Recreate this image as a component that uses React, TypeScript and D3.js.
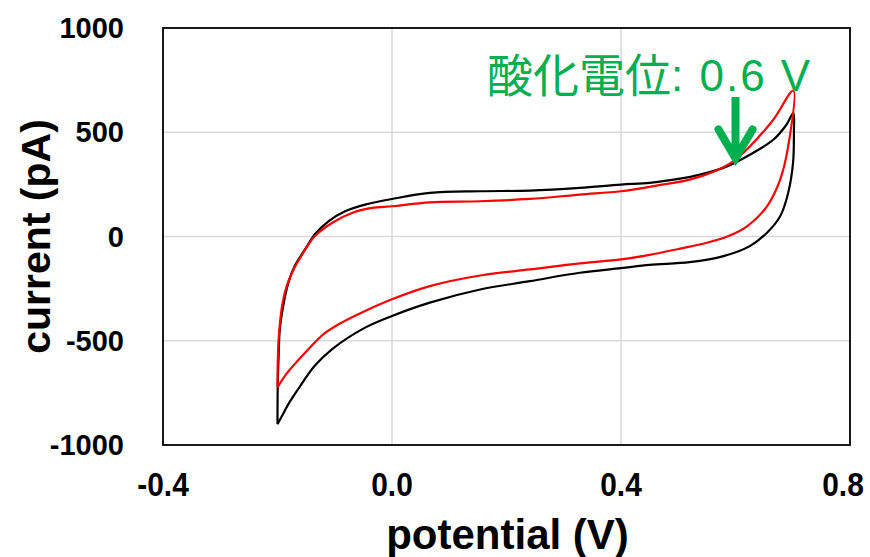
import React from "react";
import * as d3 from "d3";

// Potential (V) and current (pA), one full CV loop each
const blackPotential = [
  -0.2, -0.1995, -0.198, -0.196, -0.19, -0.181, -0.17, -0.152, -0.135, -0.111, -0.082, -0.047, 0.0, 0.066, 0.154, 0.241, 0.328, 0.4, 0.45, 0.5, 0.538, 0.585, 0.625, 0.666, 0.689, 0.701,
  0.702, 0.7005, 0.692, 0.678, 0.655, 0.625, 0.579, 0.52, 0.45, 0.4, 0.328, 0.241, 0.154, 0.066, 0.0, -0.047, -0.105, -0.135, -0.164, -0.181, -0.192, -0.2,
];
const blackCurrent = [
  -900, -700, -573, -445, -333, -222, -142, -62, 10, 73, 121, 153, 180, 209, 217, 220, 233, 249, 257, 276, 297, 336, 392, 464, 536, 592,
  500, 353, 209, 97, 18, -46, -94, -123, -136, -152, -174, -214, -254, -317, -381, -437, -541, -620, -732, -804, -860, -900,
];
const redPotential = [
  -0.2, -0.1995, -0.198, -0.192, -0.184, -0.172, -0.155, -0.135, -0.105, -0.07, -0.035, 0.0, 0.066, 0.154, 0.241, 0.328, 0.4, 0.462, 0.52, 0.567, 0.596, 0.625, 0.666, 0.701,
  0.692, 0.678, 0.655, 0.62, 0.59, 0.55, 0.5, 0.45, 0.4, 0.328, 0.241, 0.154, 0.066, 0.0, -0.047, -0.088, -0.12, -0.146, -0.17, -0.187, -0.2,
];
const redCurrent = [
  -724, -600, -493, -333, -238, -158, -78, 1, 65, 113, 137, 145, 164, 169, 180, 201, 217, 244, 273, 317, 360, 432, 560, 700,
  432, 273, 145, 49, 5, -30, -60, -88, -110, -129, -158, -187, -238, -301, -357, -413, -469, -541, -612, -668, -724,
];

const xTicks = [-0.4, 0.0, 0.4, 0.8];
const xTickLabels = ["-0.4", "0.0", "0.4", "0.8"];
const yTicks = [-1000, -500, 0, 500, 1000];
const annotationCJK = "酸化電位";
const annotationLatin = ": 0.6 V";
const annotationPotential = 0.6;
const annotationCurrent = 360;

const W = 870;
const H = 557;
const M = { left: 163, right: 20, top: 28, bottom: 112 };

export default function App() {
  const x = d3.scaleLinear().domain([-0.4, 0.8]).range([M.left, W - M.right]);
  const y = d3.scaleLinear().domain([-1000, 1000]).range([H - M.bottom, M.top]);

  const line = d3
    .line<[number, number]>()
    .x((d) => x(d[0]))
    .y((d) => y(d[1]))
    .curve(d3.curveCatmullRom.alpha(0.5));

  const black = blackPotential.map((v, i) => [v, blackCurrent[i]] as [number, number]);
  const red = redPotential.map((v, i) => [v, redCurrent[i]] as [number, number]);

  const font = "'Liberation Sans', Arial, sans-serif";
  const ax = x(annotationPotential);
  const tipY = y(annotationCurrent);

  return (
    <svg
      width={W}
      height={H}
      style={{ position: "absolute", left: 0, top: 0, background: "#fff" }}
    >
      {/* grid */}
      {xTicks.slice(1, -1).map((t) => (
        <line key={"gx" + t} x1={x(t)} x2={x(t)} y1={y(1000)} y2={y(-1000)} stroke="#d9d9d9" strokeWidth={1.5} />
      ))}
      {yTicks.slice(1, -1).map((t) => (
        <line key={"gy" + t} x1={x(-0.4)} x2={x(0.8)} y1={y(t)} y2={y(t)} stroke="#d9d9d9" strokeWidth={1.5} />
      ))}
      {/* frame */}
      <rect
        x={x(-0.4)}
        y={y(1000)}
        width={x(0.8) - x(-0.4)}
        height={y(-1000) - y(1000)}
        fill="none"
        stroke="#000"
        strokeWidth={1.8}
      />
      {/* curves */}
      <path d={line(black) || ""} fill="none" stroke="#000" strokeWidth={2.2} strokeLinejoin="round" />
      <path d={line(red) || ""} fill="none" stroke="#ff0000" strokeWidth={2.2} strokeLinejoin="round" />

      {/* y tick labels */}
      {yTicks.map((t) => (
        <text
          key={"ty" + t}
          x={x(-0.4) - 39}
          y={y(t)}
          dy="0.35em"
          textAnchor="end"
          fontFamily={font}
          fontWeight="bold"
          fontSize={29}
        >
          {t}
        </text>
      ))}
      {/* x tick labels */}
      {xTicks.map((t, i) => {
        const cx = Math.min(x(t), W - 27);
        return (
          <text
            key={"tx" + t}
            transform={`translate(${cx},496) scale(0.88,1)`}
            textAnchor="middle"
            fontFamily={font}
            fontWeight="bold"
            fontSize={34}
          >
            {xTickLabels[i]}
          </text>
        );
      })}
      {/* axis titles */}
      <text
        x={(x(-0.4) + x(0.8)) / 2 + 1}
        y={549}
        textAnchor="middle"
        fontFamily={font}
        fontWeight="bold"
        fontSize={42}
      >
        potential (V)
      </text>
      <text
        transform={`translate(50, ${y(0)}) rotate(-90)`}
        textAnchor="middle"
        fontFamily={font}
        fontWeight="bold"
        fontSize={41}
      >
        current (pA)
      </text>

      {/* annotation */}
      <text x={487} y={92} fill="#00b050">
        <tspan fontFamily="'Noto Sans CJK JP', 'Noto Sans', sans-serif" fontSize={46}>
          {annotationCJK}
        </tspan>
        <tspan fontFamily={font} fontSize={44} letterSpacing={2} dy={-1}>
          {annotationLatin}
        </tspan>
      </text>
      <line x1={ax} x2={ax} y1={97} y2={tipY - 4} stroke="#00b050" strokeWidth={8} />
      <path
        d={`M${ax - 17},${tipY - 32} L${ax},${tipY - 3} L${ax + 17},${tipY - 32}`}
        fill="none"
        stroke="#00b050"
        strokeWidth={8}
        strokeLinejoin="miter"
        strokeLinecap="round"
      />
    </svg>
  );
}
